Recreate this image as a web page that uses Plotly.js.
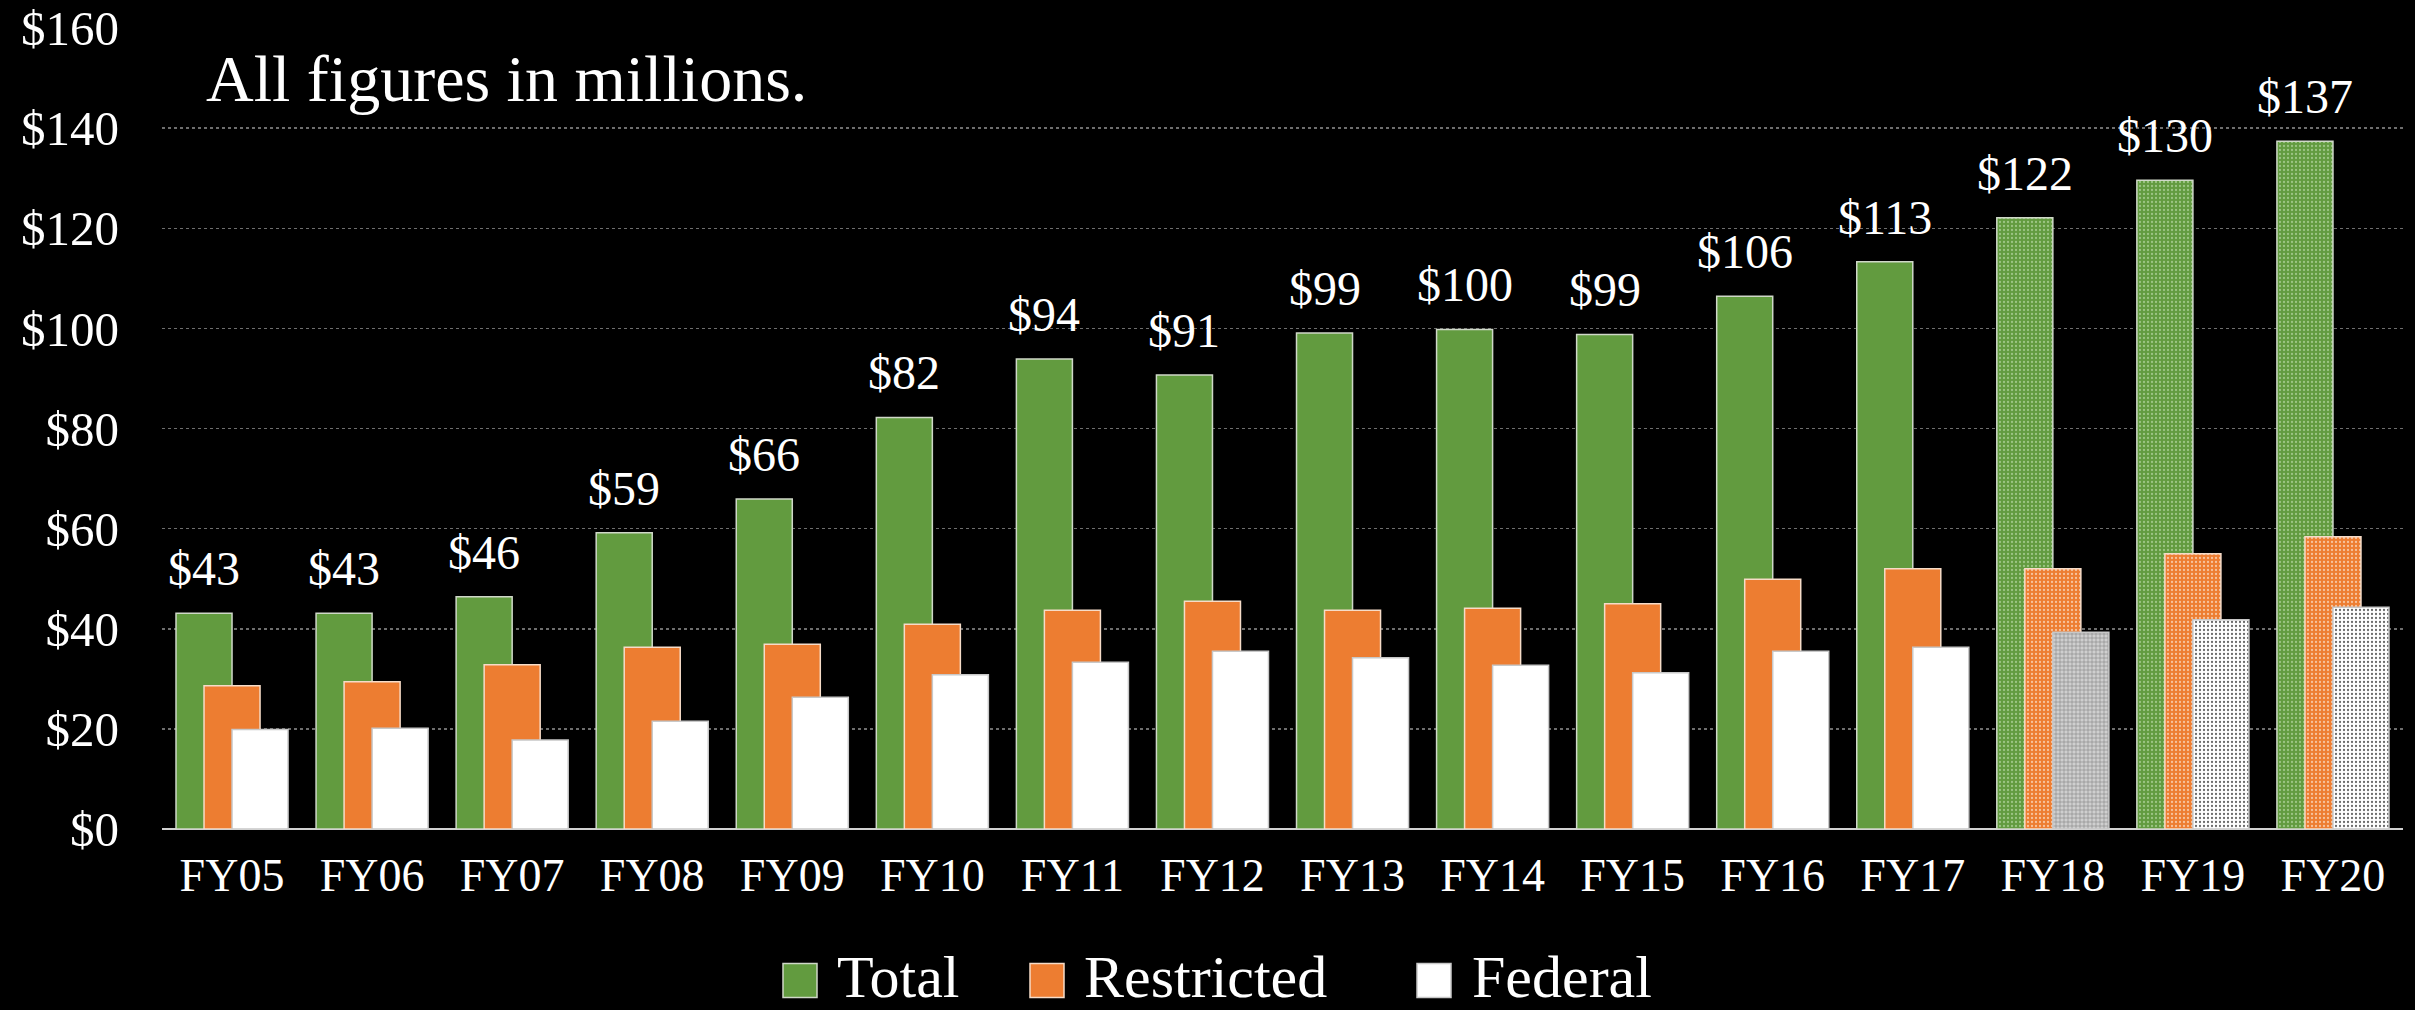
<!DOCTYPE html>
<html>
<head>
<meta charset="utf-8">
<script src="https://cdn.plot.ly/plotly-3.0.1.min.js"></script>
<style>
  html, body { margin: 0; padding: 0; background: #000; }
  #chart { width: 2415px; height: 1010px; }
</style>
</head>
<body>
<div id="chart"></div>
<script>
// ---- data ----
const years = ["FY05","FY06","FY07","FY08","FY09","FY10","FY11","FY12","FY13","FY14","FY15","FY16","FY17","FY18","FY19","FY20"];
const total = [43.1, 43.1, 46.4, 59.2, 65.9, 82.2, 93.9, 90.7, 99.1, 99.8, 98.8, 106.4, 113.3, 122.1, 129.6, 137.4];
const restricted = [28.6, 29.4, 32.8, 36.3, 36.9, 40.9, 43.7, 45.5, 43.7, 44.1, 45.0, 49.9, 52.0, 52.0, 55.0, 58.4];
const federal = [19.9, 20.1, 17.8, 21.5, 26.3, 30.8, 33.3, 35.5, 34.2, 32.7, 31.2, 35.5, 36.3, 39.3, 41.8, 44.3];
const projected = [false,false,false,false,false,false,false,false,false,false,false,false,false,true,true,true];
const seriesNames = ["Total", "Restricted", "Federal"];
const yTicks = [0, 20, 40, 60, 80, 100, 120, 140, 160];
const noteText = "All figures in millions.";

// ---- styling ----
const FONT = "Liberation Serif";
const GREEN = "#629B3F", ORANGE = "#ED7D31", WHITE = "#FFFFFF";

function pat(fg, bg, size, sol, shape) {
  return {
    shape: projected.map(p => p ? shape : ""),
    fgcolor: fg, bgcolor: bg, size: size, solidity: sol, fillmode: "replace"
  };
}

const traces = [
  {
    type: "bar", name: seriesNames[0], x: years, y: total,
    width: 0.4, offset: -0.4,
    marker: { color: GREEN, line: { color: "#cfd8c8", width: 1.5 },
      pattern: pat("#9cc584", GREEN, 4, 0.25, ".") },
    hoverinfo: "x+y", showlegend: false
  },
  {
    type: "bar", name: seriesNames[1], x: years, y: restricted,
    width: 0.4, offset: -0.2,
    marker: { color: ORANGE, line: { color: "#f6dcc8", width: 1.5 },
      pattern: pat("#f7c39e", ORANGE, 4, 0.25, ".") },
    hoverinfo: "x+y", showlegend: false
  },
  {
    type: "bar", name: seriesNames[2], x: years, y: federal,
    width: 0.4, offset: 0,
    marker: { color: WHITE, line: { color: "#c8c8c8", width: 1.5 },
      pattern: {
        shape: projected.map((p, i) => p ? (i === 13 ? "+" : ".") : ""),
        fgcolor: projected.map((p, i) => i === 13 ? "#7a7a7a" : "#6a6a6a"),
        bgcolor: projected.map((p, i) => i === 13 ? "#cfcfcf" : WHITE),
        size: 4, solidity: 0.25, fillmode: "replace"
      } },
    hoverinfo: "x+y", showlegend: false
  }
];

// data labels above the Total bars
const annotations = total.map((v, i) => ({
  x: i - 0.2, y: v, xref: "x", yref: "y",
  text: "$" + Math.round(v), showarrow: false,
  xanchor: "center", yanchor: "bottom", yshift: 16,
  font: { family: FONT, size: 48, color: "#fff" }
}));

// note text
const L = 162, R = 2403, T = 27.7, B = 828.6;
const px = v => (v - L) / (R - L);
const py = v => (B - v) / (B - T);
annotations.push({
  x: px(204), y: py(40), xref: "paper", yref: "paper",
  xanchor: "left", yanchor: "top", showarrow: false, text: noteText,
  font: { family: FONT, size: 66, color: "#fff" }
});

// custom legend (large swatches)
const legendItems = [
  { name: seriesNames[0], color: GREEN, line: "#cfd8c8", sx: 783, tx: 835 },
  { name: seriesNames[1], color: ORANGE, line: "#f6dcc8", sx: 1030, tx: 1082 },
  { name: seriesNames[2], color: WHITE, line: "#c8c8c8", sx: 1417, tx: 1470 }
];
const shapes = [];
legendItems.forEach(it => {
  shapes.push({
    type: "rect", xref: "paper", yref: "paper",
    x0: px(it.sx), x1: px(it.sx + 34), y0: py(997), y1: py(963),
    fillcolor: it.color, line: { color: it.line, width: 1.5 }
  });
  annotations.push({
    x: px(it.tx), y: py(977), xref: "paper", yref: "paper",
    xanchor: "left", yanchor: "middle", showarrow: false, text: it.name,
    font: { family: FONT, size: 60, color: "#fff" }
  });
});

const layout = {
  width: 2415, height: 1010,
  paper_bgcolor: "#000", plot_bgcolor: "#000",
  margin: { l: L, r: 2415 - R, t: T, b: 1010 - B, pad: 0 },
  barmode: "overlay",
  showlegend: false,
  font: { family: FONT, color: "#fff" },
  xaxis: {
    type: "category", showgrid: false, zeroline: false,
    showline: false, ticks: "",
    tickfont: { family: FONT, size: 46, color: "#fff" },
    ticklabelstandoff: 15,
    range: [-0.5, 15.5]
  },
  yaxis: {
    range: [0, 160], tickvals: yTicks, ticktext: yTicks.map(v => "$" + v),
    showgrid: true, gridcolor: "#6e6e6e", gridwidth: 1.5, griddash: "dot",
    zeroline: true, zerolinecolor: "#d0d0d0", zerolinewidth: 2.5,
    showline: false, ticks: "",
    tickfont: { family: FONT, size: 49, color: "#fff" },
    ticklabelstandoff: 42
  },
  annotations: annotations,
  shapes: shapes
};

Plotly.newPlot("chart", traces, layout, { displayModeBar: false, staticPlot: true });
</script>
</body>
</html>
